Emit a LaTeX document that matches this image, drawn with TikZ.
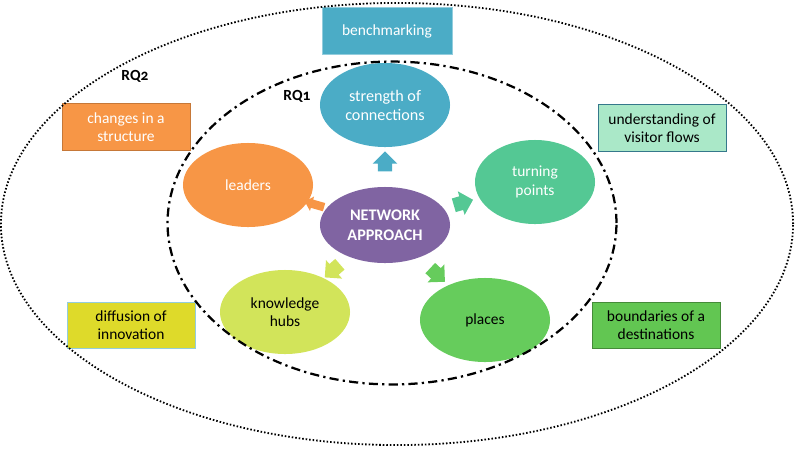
\documentclass[tikz,border=0pt]{standalone}
\usepackage{fontspec}
\setmainfont{Carlito}
\usetikzlibrary{
    shapes.geometric,
    shapes.arrows,
    calc,
    backgrounds
}
\definecolor{SkyTeal}{RGB}{75,172,198}
\definecolor{NetPurple}{RGB}{128,100,162}
\definecolor{LeadOrange}{RGB}{247,150,70}
\definecolor{TurnGreen}{RGB}{84,200,148}
\definecolor{PlaceGreen}{RGB}{102,204,92}
\definecolor{HubLime}{RGB}{210,228,90}
\definecolor{FlowMint}{RGB}{170,232,200}
\definecolor{DiffYellow}{RGB}{222,218,42}
\definecolor{BoundGreen}{RGB}{98,198,82}
\tikzset{
  circ/.style  = {ellipse, minimum width=3.25cm, minimum height=2.1cm,
                  inner sep=0pt, align=center,
                  font=\fontsize{11}{13}\selectfont},
  tag/.style   = {rectangle, minimum width=3.2cm, minimum height=1.17cm,
                  inner sep=0pt, align=center, line width=0.5pt,
                  font=\fontsize{11}{13}\selectfont},
  blockarrow/.style = {single arrow, minimum height=0.5cm,
                  inner xsep=0pt, inner ysep=0.17cm,
                  single arrow head extend=0.13cm}
}

\begin{document}
\begin{tikzpicture}[
    x=0.025cm, y=-0.025cm,
    ring/.style={ellipse, draw, inner sep=0pt},
    rqlabel/.style={font=\fontsize{11}{13}\selectfont\bfseries\addfontfeatures{Numbers=OldStyle}}
  ]
    \useasboundingbox (0,0) rectangle (796,448);

    \node[circ, fill=NetPurple, text=white, minimum height=1.9cm,
          font=\fontsize{11.5}{14}\selectfont\bfseries] (na) at (385,225) {NETWORK\\APPROACH};
    \node[circ, fill=SkyTeal, text=white, font=\fontsize{11.5}{13.5}\selectfont] (soc) at (385,105) {strength of\\connections};
    \node[circ, fill=TurnGreen, text=white, minimum width=3.0cm] (tp) at (535,182) {turning\\points};
    \node[circ, fill=PlaceGreen] (pl) at (485,320) {places};
    \node[circ, fill=HubLime] (kh) at (285,312) {knowledge\\hubs};
    \node[circ, fill=LeadOrange, text=white] (ld) at (248,185) {leaders};

    \begin{scope}[on background layer]
      \node[blockarrow, fill=SkyTeal, rotate=90] (a1) at ($(na)!0.5!(soc)$) {};
      \node[blockarrow, fill=TurnGreen, rotate=16] (a2) at ($(na)!0.5!(tp)$) {};
      \node[blockarrow, fill=PlaceGreen, rotate=-43] (a3) at ($(na)!0.5!(pl)$) {};
      \node[blockarrow, fill=HubLime, rotate=-139] (a4) at ($(na)!0.5!(kh)$) {};
      \node[blockarrow, fill=LeadOrange, rotate=164, inner ysep=0.1cm,
            single arrow head extend=0.08cm] (a5) at ($(na)!0.5!(ld)$) {};
    \end{scope}

    \node[tag, fill=SkyTeal, draw=SkyTeal!60!white, text=white, minimum width=3.25cm] (bm) at (387,31) {benchmarking};
    \node[tag, fill=LeadOrange, draw=LeadOrange!80!black, text=white] (cs) at (126,127) {changes in a\\structure};
    \node[tag, fill=FlowMint, draw=SkyTeal!70!black] (vf) at (662,128) {understanding of\\visitor flows};
    \node[tag, fill=DiffYellow, draw=SkyTeal!60!white, minimum height=1.15cm] (di) at (131,325) {diffusion of\\innovation};
    \node[tag, fill=BoundGreen, draw=BoundGreen!70!black, minimum height=1.15cm] (bd) at (656,325) {boundaries of a\\destinations};

    \node[rqlabel] (l2) at (135,76) {RQ2};
    \node[rqlabel] (l1) at (297,96) {RQ1};

    \node[ring, line width=1.3pt, dash pattern=on 1.1pt off 1.4pt,
          minimum width=19.8cm, minimum height=11.05cm] (rq2) at (397,224) {};
    \node[ring, line width=1.6pt, dash pattern=on 6.5pt off 3pt on 1.6pt off 3pt,
          minimum width=11.22cm, minimum height=8.07cm] (rq1) at (392,223) {};
  \end{tikzpicture}
\end{document}
